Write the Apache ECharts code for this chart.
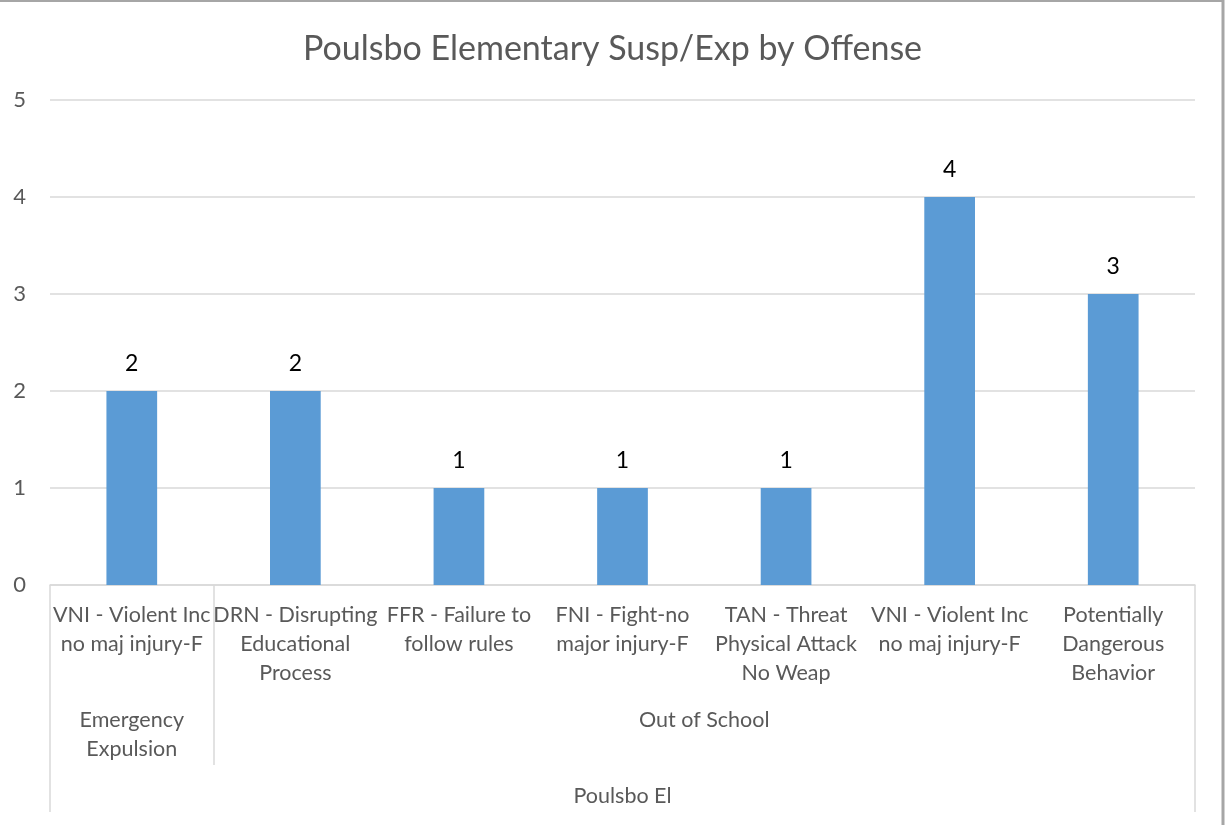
<!DOCTYPE html>
<html>
<head>
<meta charset="utf-8">
<script src="https://cdn.jsdelivr.net/npm/echarts@6/dist/echarts.min.js"></script>
<style>
html,body{margin:0;padding:0;background:#fff;}
#chart{width:1225px;height:825px;}
</style>
</head>
<body>
<div id="chart"></div>
<script>
const title = 'Poulsbo Elementary Susp/Exp by Offense';
const categories = [
  'VNI - Violent Inc\nno maj injury-F',
  'DRN - Disrupting\nEducational\nProcess',
  'FFR - Failure to\nfollow rules',
  'FNI - Fight-no\nmajor injury-F',
  'TAN - Threat\nPhysical Attack\nNo Weap',
  'VNI - Violent Inc\nno maj injury-F',
  'Potentially\nDangerous\nBehavior'
];
const values = [2, 2, 1, 1, 1, 4, 3];
const groupNames = ['Emergency\nExpulsion', 'Out of School'];
const groupSpans = [1, 6];
const topGroupName = 'Poulsbo El';
const yTicks = [0, 1, 2, 3, 4, 5];

const FONT = 'Lato';
const TXT = '#595959';
const GRID = '#d9d9d9';

// half-slot helper axes for group levels
const n = categories.length;
const halfCount = 2 * n + 1;
const groupData = new Array(halfCount).fill('');
const groupTicks = new Set();
let start = 0;
groupNames.forEach((g, i) => {
  const end = start + groupSpans[i];
  groupData[start + end] = g;
  if (start > 0) groupTicks.add(2 * start);
  start = end;
});
const topData = new Array(halfCount).fill('');
topData[n] = topGroupName;

const chart = echarts.init(document.getElementById('chart'));
chart.setOption({
  animation: false,
  backgroundColor: '#fff',
  title: {
    text: title,
    left: 'center',
    top: 27,
    textStyle: {fontFamily: FONT, fontSize: 34, fontWeight: 'normal', color: TXT}
  },
  grid: {left: 50, right: 30, top: 100, bottom: 240, containLabel: false},
  xAxis: [
    {
      type: 'category',
      data: categories,
      axisLine: {show: true, lineStyle: {color: GRID, width: 1.5}},
      axisTick: {show: false},
      axisLabel: {interval: 0, margin: 16, fontFamily: FONT, fontSize: 21.5, color: TXT, lineHeight: 29}
    },
    {
      type: 'category',
      data: groupData,
      boundaryGap: false,
      position: 'bottom',
      axisLine: {show: false},
      axisTick: {show: true, length: 180, interval: (i) => groupTicks.has(i), lineStyle: {color: GRID, width: 1.5}},
      axisLabel: {interval: 0, margin: 121, fontFamily: FONT, fontSize: 21.5, color: TXT, lineHeight: 29}
    },
    {
      type: 'category',
      data: topData,
      boundaryGap: false,
      position: 'bottom',
      axisLine: {show: false},
      axisTick: {show: true, length: 227, interval: (i) => i === 0 || i === halfCount - 1, lineStyle: {color: GRID, width: 1.5}},
      axisLabel: {interval: 0, margin: 197, fontFamily: FONT, fontSize: 21.5, color: TXT, lineHeight: 29}
    }
  ],
  yAxis: {
    type: 'value',
    min: yTicks[0],
    max: yTicks[yTicks.length - 1],
    interval: 1,
    axisLine: {show: false},
    axisTick: {show: false},
    splitLine: {lineStyle: {color: GRID, width: 1.5}},
    axisLabel: {margin: 24, fontFamily: FONT, fontSize: 22, color: TXT}
  },
  series: [{
    type: 'bar',
    xAxisIndex: 0,
    data: values,
    barWidth: '31%',
    itemStyle: {color: '#5b9bd5'},
    label: {show: true, position: 'top', distance: 16, fontFamily: FONT, fontSize: 23, color: '#000'}
  }],
  graphic: [
    {type: 'line', shape: {x1: 0, y1: 1, x2: 1222, y2: 1}, style: {stroke: '#a6a6a6', lineWidth: 2}, silent: true},
    {type: 'line', shape: {x1: 1223, y1: 0, x2: 1223, y2: 825}, style: {stroke: '#a6a6a6', lineWidth: 3}, silent: true}
  ]
});
</script>
</body>
</html>
